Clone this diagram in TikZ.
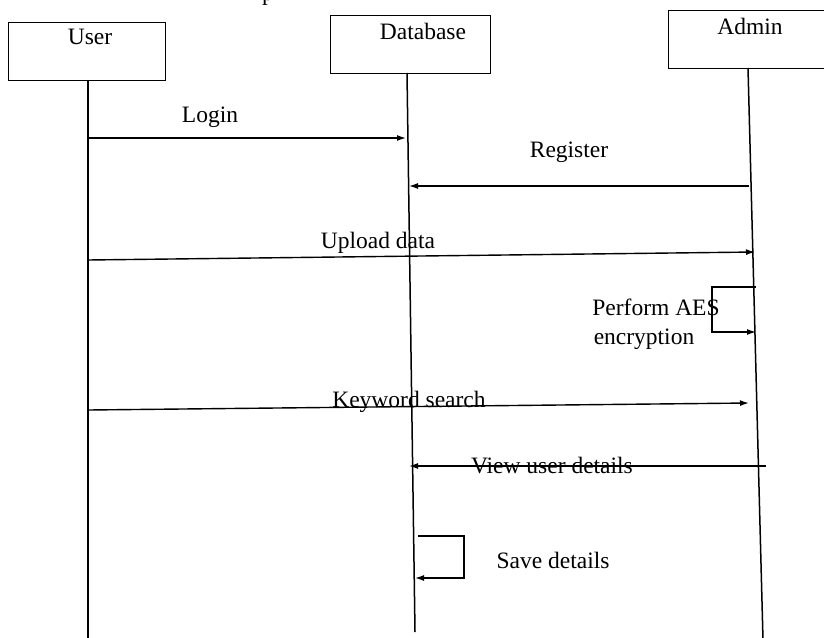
\documentclass[tikz,border=0pt]{standalone}
\usepackage{fontspec}
\setmainfont{Liberation Serif}
\usetikzlibrary{arrows.meta}
\begin{document}
\begin{tikzpicture}[x=1pt,y=-1pt,
  actor/.style={draw,line width=1.3pt,anchor=north west,inner sep=0pt},
  life/.style={line width=1.5pt},
  msg/.style={line width=1.4pt,-{Latex[length=9pt,width=6pt]}},
  lbl/.style={font=\fontsize{23.5}{26}\selectfont,inner sep=0pt}]
\useasboundingbox (0,0) rectangle (824,637);
\fill[white] (0,0) rectangle (824,637);
% cut-off text at the top
\node[lbl,anchor=base] (frag) at (268,0) {p};
% actor boxes
\node[actor,minimum width=157pt,minimum height=58pt] (user) at (8,22) {};
\node[actor,minimum width=160pt,minimum height=58pt] (db) at (330,15) {};
\node[actor,minimum width=160pt,minimum height=58pt] (admin) at (668,10) {};
\node[lbl] (tuser) at (90,37) {User};
\node[lbl] (tdb) at (423,31) {Database};
\node[lbl] (tadmin) at (750,26) {Admin};
% lifeline ends
\coordinate (ue) at (88,640);
\coordinate (de) at (415,632);
\coordinate (ae) at (763,640);
\draw[life] (user.south -| 88,0) -- (ue);
\draw[life] (407,73) coordinate (ds) -- (de);
\draw[life] (748,68) coordinate (as) -- (ae);
% message end points
\coordinate (m1a) at (88,138);  \coordinate (m1b) at (406,138);
\coordinate (m2a) at (749,186); \coordinate (m2b) at (409,186);
\coordinate (m3a) at (88,260);  \coordinate (m3b) at (755,252);
\coordinate (m4a) at (756,287); \coordinate (m4b) at (712,287);
\coordinate (m4c) at (712,332); \coordinate (m4d) at (756,332);
\coordinate (m5a) at (88,410);  \coordinate (m5b) at (749,403);
\coordinate (m6a) at (766,466); \coordinate (m6b) at (409,466);
\coordinate (m7a) at (418,536); \coordinate (m7b) at (464,536);
\coordinate (m7c) at (464,578); \coordinate (m7d) at (415,578);
% messages
\draw[msg] (m1a) -- (m1b);
\node[lbl] (l1) at (210,117) {Login};
\draw[msg] (m2a) -- (m2b);
\node[lbl] (l2) at (569,152) {Register};
\draw[msg] (m3a) -- (m3b);
\node[lbl] (l3) at (378,243) {Upload data};
\draw[msg] (m4a) -- (m4b) -- (m4c) -- (m4d);
\node[lbl] (l4a) at (656,307) {Perform AES};
\node[lbl] (l4b) at (644,339) {encryption};
\draw[msg] (m5a) -- (m5b);
\node[lbl] (l5) at (409,402) {Keyword search};
\draw[msg] (m6a) -- (m6b);
\node[lbl] (l6) at (552,466) {View user details};
\draw[msg] (m7a) -- (m7b) -- (m7c) -- (m7d);
\node[lbl] (l7) at (553,560) {Save details};
\end{tikzpicture}
\end{document}
